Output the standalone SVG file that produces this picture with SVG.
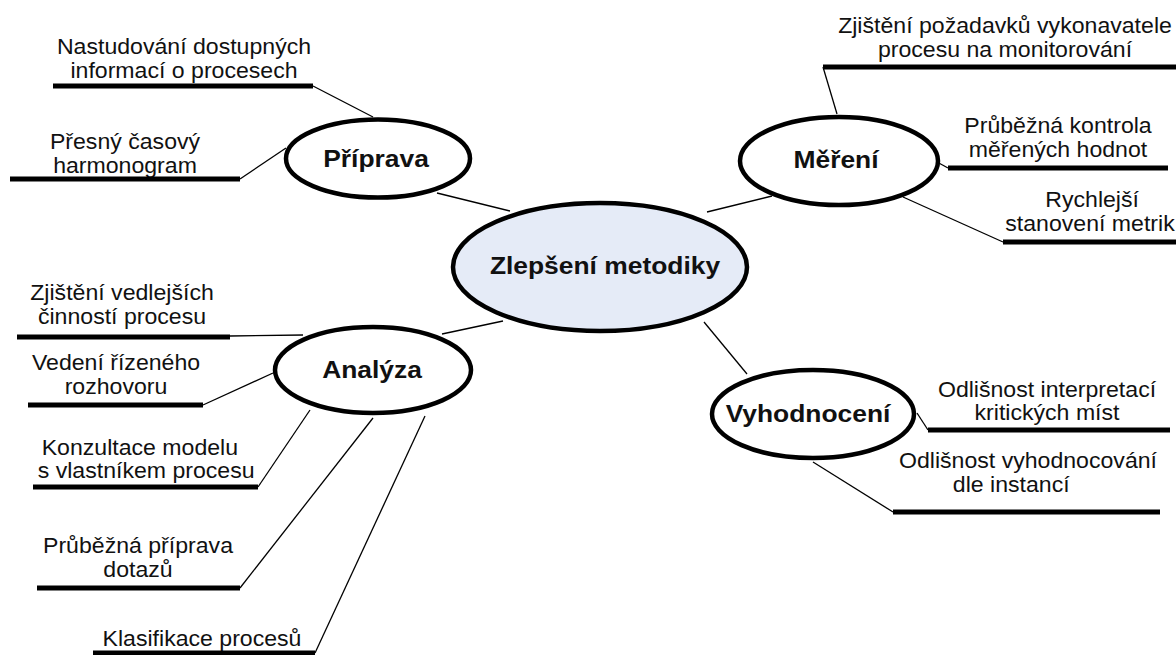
<svg xmlns="http://www.w3.org/2000/svg" width="1176" height="655" viewBox="0 0 1176 655">
  <style>
    .bg { fill: #ffffff; }
    .hub { fill: #e5ebf7; stroke: #000; stroke-width: 4.5; }
    .branch { fill: #ffffff; stroke: #000; stroke-width: 4.5; }
    .bar { stroke: #000; stroke-width: 5; fill: none; }
    .link { stroke: #000; stroke-width: 1.3; fill: none; }
    .title { font-family: "Liberation Sans", Arial, sans-serif; font-weight: bold; font-size: 24px; fill: #111; text-anchor: middle; }
    .leaf { font-family: "Liberation Sans", Arial, sans-serif; font-size: 22px; fill: #111; text-anchor: middle; }
  </style>
  <rect class="bg" x="0" y="0" width="1176" height="655"/>

  <!-- thin connectors between hub, branches and leaves -->
  <g id="connectors">
    <line class="link" x1="313" y1="86" x2="373" y2="117"/>
    <line class="link" x1="240" y1="179" x2="286" y2="148"/>
    <line class="link" x1="437" y1="193" x2="510" y2="211"/>
    <line class="link" x1="823" y1="67" x2="837" y2="114"/>
    <line class="link" x1="772" y1="196" x2="707" y2="212"/>
    <line class="link" x1="937" y1="162" x2="948" y2="168"/>
    <line class="link" x1="903" y1="197" x2="1003" y2="242"/>
    <line class="link" x1="442" y1="334" x2="503" y2="321"/>
    <line class="link" x1="704" y1="322" x2="747" y2="374"/>
    <line class="link" x1="230" y1="336" x2="303" y2="335"/>
    <line class="link" x1="203" y1="405" x2="273" y2="373"/>
    <line class="link" x1="258" y1="487" x2="310" y2="410"/>
    <line class="link" x1="240" y1="588" x2="373" y2="418"/>
    <line class="link" x1="315" y1="653" x2="425" y2="416"/>
    <line class="link" x1="917" y1="413" x2="928" y2="430"/>
    <line class="link" x1="813" y1="462" x2="893" y2="512"/>
  </g>

  <!-- hub -->
  <g id="zlepseni-metodiky">
    <ellipse class="hub" cx="600" cy="267" rx="147" ry="64"/>
    <text class="title" transform="translate(605 274) scale(1.1 1)">Zlepšení metodiky</text>
  </g>

  <!-- branches -->
  <g id="priprava">
    <ellipse class="branch" cx="378" cy="158.5" rx="92" ry="39"/>
    <text class="title" transform="translate(376 167) scale(1.1 1)">Příprava</text>
  </g>
  <g id="mereni">
    <ellipse class="branch" cx="839" cy="161" rx="99" ry="44"/>
    <text class="title" transform="translate(836 168) scale(1.1 1)">Měření</text>
  </g>
  <g id="analyza">
    <ellipse class="branch" cx="373" cy="370" rx="98" ry="43"/>
    <text class="title" transform="translate(372 378) scale(1.1 1)">Analýza</text>
  </g>
  <g id="vyhodnoceni">
    <ellipse class="branch" cx="813" cy="414" rx="101" ry="44"/>
    <text class="title" transform="translate(808 422) scale(1.1 1)">Vyhodnocení</text>
  </g>

  <!-- leaves: label over a heavy bar -->
  <g id="nastudovani">
    <text class="leaf" transform="translate(184 54) scale(1.05 1)"><tspan x="0" y="0">Nastudování dostupných</tspan><tspan x="0" y="24">informací o procesech</tspan></text>
    <line class="bar" x1="53" y1="86" x2="313" y2="86"/>
  </g>
  <g id="harmonogram">
    <text class="leaf" transform="translate(125 149) scale(1.05 1)"><tspan x="0" y="0">Přesný časový</tspan><tspan x="0" y="24">harmonogram</tspan></text>
    <line class="bar" x1="10" y1="179" x2="240" y2="179"/>
  </g>
  <g id="pozadavky">
    <text class="leaf" transform="translate(1005 33) scale(1.05 1)"><tspan x="0" y="0">Zjištění požadavků vykonavatele</tspan><tspan x="0" y="24">procesu na monitorování</tspan></text>
    <line class="bar" x1="823" y1="67" x2="1176" y2="67"/>
  </g>
  <g id="kontrola">
    <text class="leaf" transform="translate(1058 133) scale(1.05 1)"><tspan x="0" y="0">Průběžná kontrola</tspan><tspan x="0" y="24">měřených hodnot</tspan></text>
    <line class="bar" x1="948" y1="168" x2="1168" y2="168"/>
  </g>
  <g id="metriky">
    <text class="leaf" transform="translate(1090 207) scale(1.05 1)"><tspan x="2" y="0">Rychlejší</tspan><tspan x="0" y="24">stanovení metrik</tspan></text>
    <line class="bar" x1="1003" y1="242" x2="1176" y2="242"/>
  </g>
  <g id="vedlejsi-cinnosti">
    <text class="leaf" transform="translate(122 300) scale(1.05 1)"><tspan x="0" y="0">Zjištění vedlejších</tspan><tspan x="0" y="24">činností procesu</tspan></text>
    <line class="bar" x1="17" y1="337" x2="230" y2="337"/>
  </g>
  <g id="rozhovor">
    <text class="leaf" transform="translate(116 370) scale(1.05 1)"><tspan x="0" y="0">Vedení řízeného</tspan><tspan x="0" y="24">rozhovoru</tspan></text>
    <line class="bar" x1="28" y1="405" x2="203" y2="405"/>
  </g>
  <g id="konzultace">
    <text class="leaf" transform="translate(143 455) scale(1.05 1)"><tspan x="-3" y="0">Konzultace modelu</tspan><tspan x="3" y="23">s vlastníkem procesu</tspan></text>
    <line class="bar" x1="33" y1="487" x2="258" y2="487"/>
  </g>
  <g id="dotazy">
    <text class="leaf" transform="translate(138 553) scale(1.05 1)"><tspan x="0" y="0">Průběžná příprava</tspan><tspan x="0" y="24">dotazů</tspan></text>
    <line class="bar" x1="37" y1="588" x2="240" y2="588"/>
  </g>
  <g id="klasifikace">
    <text class="leaf" transform="translate(202 646) scale(1.05 1)">Klasifikace procesů</text>
    <line class="bar" x1="93" y1="653" x2="315" y2="653"/>
  </g>
  <g id="interpretace">
    <text class="leaf" transform="translate(1047 397) scale(1.05 1)"><tspan x="0" y="0">Odlišnost interpretací</tspan><tspan x="0" y="23">kritických míst</tspan></text>
    <line class="bar" x1="928" y1="430" x2="1170" y2="430"/>
  </g>
  <g id="instance">
    <text class="leaf" transform="translate(1028 468) scale(1.05 1)"><tspan x="0" y="0">Odlišnost vyhodnocování</tspan><tspan x="-16" y="24">dle instancí</tspan></text>
    <line class="bar" x1="893" y1="512" x2="1160" y2="512"/>
  </g>
</svg>
